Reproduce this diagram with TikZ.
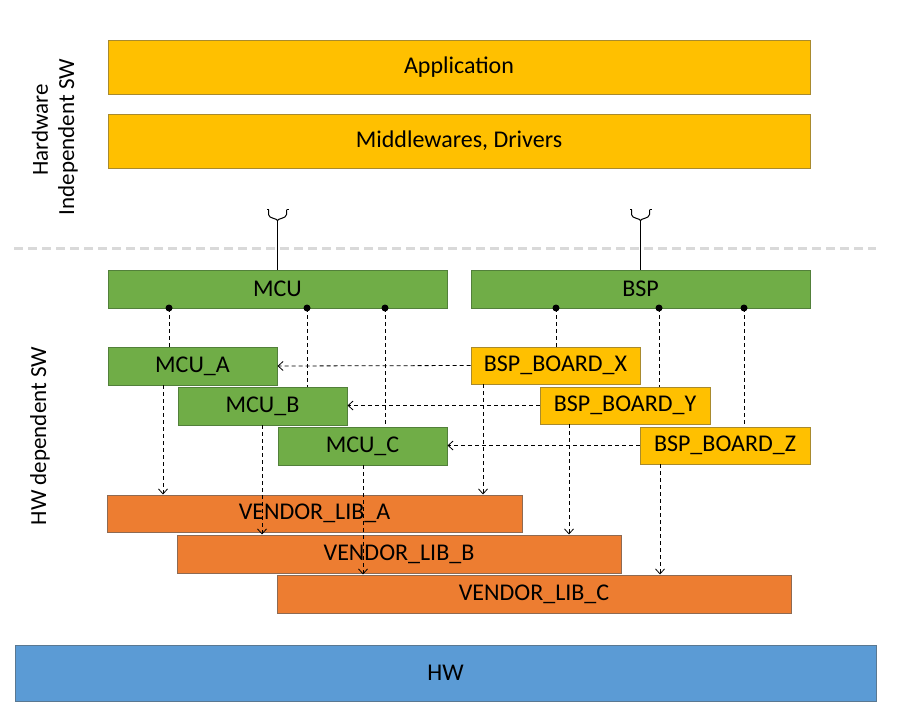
\documentclass[tikz,border=0pt]{standalone}
\usepackage{fontspec}
\setmainfont{Carlito}
\usetikzlibrary{arrows.meta,calc}
\definecolor{cyel}{HTML}{FFC000}
\definecolor{cyelb}{HTML}{A88A2E}
\definecolor{cgrn}{HTML}{70AD47}
\definecolor{cgrnb}{HTML}{52803A}
\definecolor{corg}{HTML}{ED7D31}
\definecolor{corgb}{HTML}{8E6A52}
\definecolor{cblu}{HTML}{5B9BD5}
\definecolor{cblub}{HTML}{5A7891}
\definecolor{csep}{HTML}{D9D9D9}
\tikzset{
  box/.style={rectangle, inner sep=0pt, line width=1pt, font=\fontsize{24}{28}\selectfont, text=black},
  ybox/.style={box, fill=cyel, draw=cyelb},
  gbox/.style={box, fill=cgrn, draw=cgrnb},
  obox/.style={box, fill=corg, draw=corgb},
  bbox/.style={box, fill=cblu, draw=cblub},
  conn/.style={line width=0.8pt, dash pattern=on 4pt off 3pt},
  arr/.style={conn, -{Straight Barb[length=5pt,width=9pt,line width=0.8pt]}},
  dot/.style={circle, fill=black, inner sep=0pt, minimum size=7pt},
  side/.style={rotate=90, font=\fontsize{23}{27}\selectfont, inner sep=0pt},
  sock/.style={line width=1pt}
}
\begin{document}
\begin{tikzpicture}[x=1pt,y=-1pt]
\useasboundingbox (0,0) rectangle (906,728);
% top boxes
\node[ybox, minimum width=702pt, minimum height=54pt] (app) at (459,67) {Application};
\node[ybox, minimum width=702pt, minimum height=54pt] (mid) at (459,141) {Middlewares, Drivers};
% separator
\draw[csep, line width=3pt, dash pattern=on 9pt off 5pt] (14,248) coordinate (sepl) -- (876,248) coordinate (sepr);
% side labels
\node[side] (hw1) at (40,130) {Hardware};
\node[side] (hw2) at (68,137) {Independent SW};
\node[side] (hwd) at (40,436) {HW dependent SW};
% MCU / BSP
\node[gbox, minimum width=339pt, minimum height=38pt] (mcu) at (277.5,289) {MCU};
\node[gbox, minimum width=339pt, minimum height=38pt] (bsp) at (640.5,289) {BSP};
% MCU variants
\node[gbox, minimum width=169pt, minimum height=38pt] (mcua) at (192.5,366) {MCU\_A};
\node[gbox, minimum width=169pt, minimum height=38pt] (mcub) at (262.5,406) {MCU\_B};
\node[gbox, minimum width=169pt, minimum height=38pt] (mcuc) at (362.5,446) {MCU\_C};
% BSP boards
\node[ybox, minimum width=169pt, minimum height=37pt] (bspx) at (555.5,365.5) {BSP\_BOARD\_X};
\node[ybox, minimum width=170pt, minimum height=37pt] (bspy) at (625,405.5) {BSP\_BOARD\_Y};
\node[ybox, minimum width=170pt, minimum height=37pt] (bspz) at (725,445.5) {BSP\_BOARD\_Z};
% vendor libs
\node[obox, minimum width=415pt, minimum height=37pt] (vla) at (314.5,513.5) {VENDOR\_LIB\_A};
\node[obox, minimum width=444pt, minimum height=38pt] (vlb) at (399,554) {VENDOR\_LIB\_B};
\node[obox, minimum width=514pt, minimum height=38pt] (vlc) at (534,594) {VENDOR\_LIB\_C};
% HW
\node[bbox, minimum width=861pt, minimum height=56pt] (hw) at (445.5,673) {HW};
% sockets
\foreach \n in {mcu,bsp}{
  \draw[sock] (\n.north) -- ++(0,-49) coordinate (\n sk);
  \draw[sock] ($(\n sk)+(-9,-11)$) -- ++(0,5) .. controls +(0,4) and +(0,-2) .. (\n sk)
              .. controls +(0,-2) and +(0,4) .. ($(\n sk)+(9,-6)$) -- ++(0,-5);
  \draw[sock] ($(\n sk)+(-9,-11)$) -- ++(-2,0);
  \draw[sock] ($(\n sk)+(9,-11)$) -- ++(2,0);
}
% dots and dashed links
\node[dot] (m1) at (169,308) {};
\node[dot] (m2) at (307,308) {};
\node[dot] (m3) at (385,308) {};
\node[dot] (b1) at (556,308) {};
\node[dot] (b2) at (659,308) {};
\node[dot] (b3) at (744,308) {};
\draw[conn] (m1.center) -- (m1 |- mcua.north);
\draw[conn] (m2.center) -- (m2 |- mcub.north);
\draw[conn] (m3.center) -- (m3 |- mcuc.north);
\draw[conn] (b1.center) -- (b1 |- bspx.north);
\draw[conn] (b2.center) -- (b2 |- bspy.north);
\draw[conn] (b3.center) -- (b3 |- bspz.north);
% horizontal arrows
\draw[arr] (bspx.west) -- (mcua.east);
\draw[arr] (bspy.west) -- (bspy.west -| mcub.east);
\draw[arr] (bspz.west) -- (bspz.west -| mcuc.east);
% vertical arrows
\coordinate (a1) at (163,385);
\coordinate (a2) at (262,425);
\coordinate (a3) at (363,465);
\coordinate (a4) at (483,384);
\coordinate (a5) at (569,424);
\coordinate (a6) at (660,464);
\draw[arr] (a1) -- (a1 |- vla.north);
\draw[arr] (a2) -- (a2 |- vlb.north);
\draw[arr] (a3) -- (a3 |- vlc.north);
\draw[arr] (a4) -- (a4 |- vla.north);
\draw[arr] (a5) -- (a5 |- vlb.north);
\draw[arr] (a6) -- (a6 |- vlc.north);
\end{tikzpicture}
\end{document}
